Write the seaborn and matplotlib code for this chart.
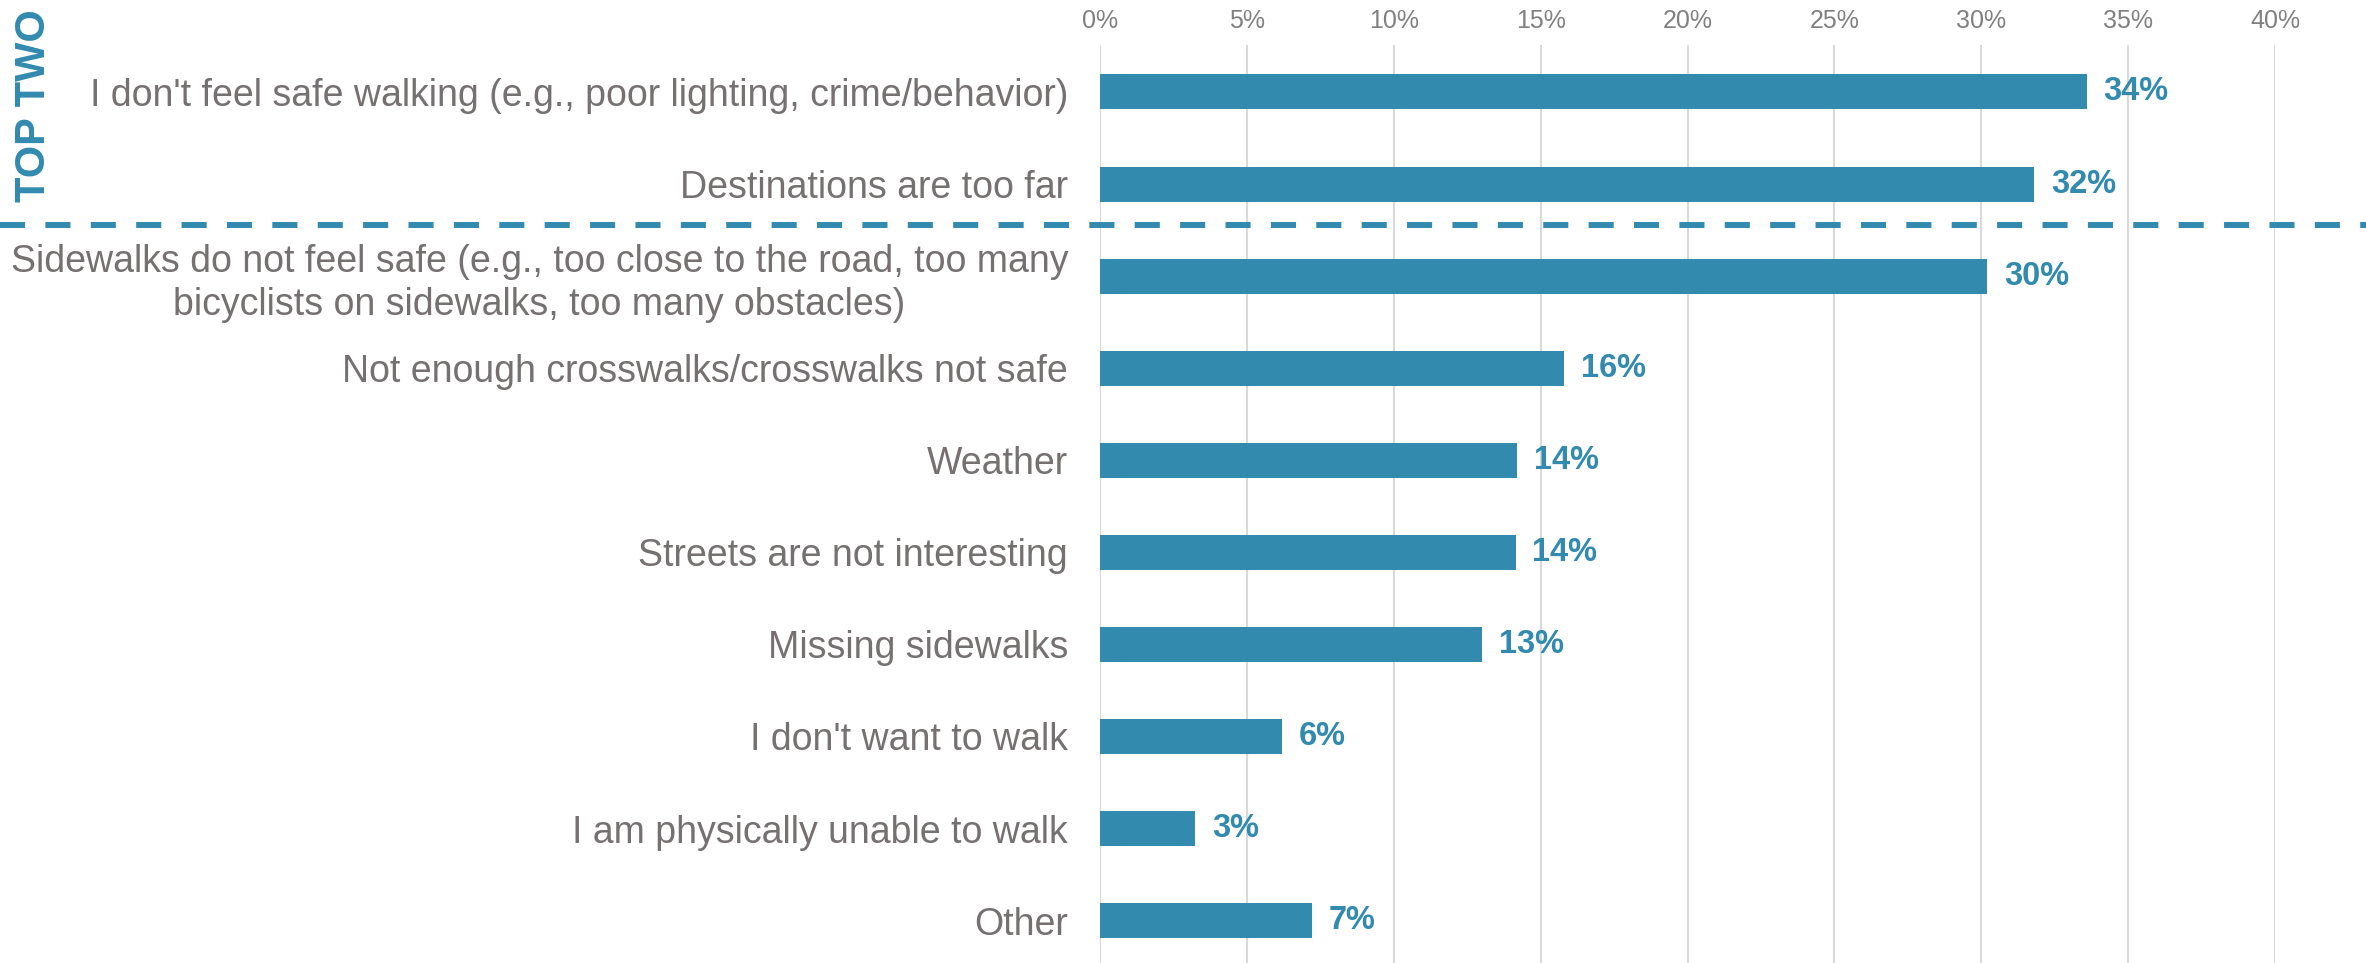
import matplotlib
matplotlib.use("Agg")
import matplotlib.pyplot as plt
import matplotlib.transforms as mtransforms
import seaborn as sns
import pandas as pd

# data
reasons = [
    "I don't feel safe walking (e.g., poor lighting, crime/behavior)",
    "Destinations are too far",
    "Sidewalks do not feel safe (e.g., too close to the road, too many\nbicyclists on sidewalks, too many obstacles)",
    "Not enough crosswalks/crosswalks not safe",
    "Weather",
    "Streets are not interesting",
    "Missing sidewalks",
    "I don't want to walk",
    "I am physically unable to walk",
    "Other",
]
shares = [0.336, 0.318, 0.302, 0.158, 0.142, 0.1415, 0.130, 0.062, 0.0325, 0.072]
xticks = [0, 0.05, 0.10, 0.15, 0.20, 0.25, 0.30, 0.35, 0.40]
top_label = "TOP TWO"

blue = "#328AAF"
grey_text = "#767171"

sns.set_style("white")
plt.rcParams["font.family"] = ["Liberation Sans", "DejaVu Sans"]

df = pd.DataFrame({"reason": reasons, "share": shares})

fig = plt.figure(figsize=(23.66, 9.63), dpi=100)
W, H = 2366, 963
ax = fig.add_axes([1100 / W, 0, (2275 - 1100) / W, (H - 45) / H])

sns.barplot(data=df, x="share", y="reason", color=blue, saturation=1,
            width=0.38, linewidth=0, ax=ax)

ax.set_xlim(0, 0.40)
ax.set_ylim(9.46, -0.51)
ax.set_xticks(xticks)
ax.set_xticklabels([f"{t:.0%}" for t in xticks])
ax.xaxis.tick_top()
ax.tick_params(axis="x", length=0, pad=9, labelsize=18, labelcolor="#808080")
ax.tick_params(axis="y", length=0, pad=23, labelsize=27, labelcolor=grey_text)
for lab in ax.get_yticklabels():
    lab.set_multialignment("center")
    lab.set_linespacing(1.25)
ax.set_xlabel("")
ax.set_ylabel("")
ax.grid(axis="x", color="#D9D9D9", linewidth=1.5)
ax.set_axisbelow(True)
sns.despine(ax=ax, left=True, bottom=True, top=True, right=True)

ax.bar_label(ax.containers[0], fmt="{:.0%}", padding=12,
             fontsize=23.5, fontweight="bold", color=blue)

# dashed separator under the top two reasons, across the whole figure
trans = mtransforms.blended_transform_factory(fig.transFigure, ax.transData)
ax.plot([0, 1], [1.44, 1.44], transform=trans, color=blue, linewidth=4.3,
        dashes=(4.2, 3.4), clip_on=False)

fig.text(34 / W, 1 - 106 / H, top_label, rotation=90, ha="center", va="center",
         fontsize=30, fontweight="bold", color=blue)

fig.savefig("out.png", dpi=100)
